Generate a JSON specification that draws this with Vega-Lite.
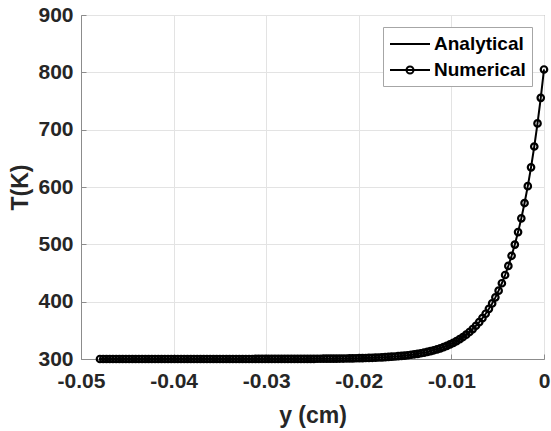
{
  "$schema": "https://vega.github.io/schema/vega-lite/v6.json",
  "width": 463,
  "height": 344,
  "autosize": "none",
  "padding": {"left": 81, "top": 15, "right": 7, "bottom": 72},
  "background": "white",
  "data": {"values": [
    {"y": -0.04795, "T": 300.0}, {"y": -0.0476, "T": 300.0}, {"y": -0.04725, "T": 300.0}, {"y": -0.0469, "T": 300.0}, {"y": -0.04655, "T": 300.0},
    {"y": -0.0462, "T": 300.0}, {"y": -0.04585, "T": 300.0}, {"y": -0.0455, "T": 300.0}, {"y": -0.04515, "T": 300.0}, {"y": -0.0448, "T": 300.0},
    {"y": -0.04445, "T": 300.0}, {"y": -0.0441, "T": 300.0}, {"y": -0.04375, "T": 300.0}, {"y": -0.0434, "T": 300.0}, {"y": -0.04305, "T": 300.0},
    {"y": -0.0427, "T": 300.0}, {"y": -0.04235, "T": 300.0}, {"y": -0.042, "T": 300.0}, {"y": -0.04165, "T": 300.0}, {"y": -0.0413, "T": 300.0},
    {"y": -0.04095, "T": 300.0}, {"y": -0.0406, "T": 300.0}, {"y": -0.04025, "T": 300.0}, {"y": -0.0399, "T": 300.0}, {"y": -0.03955, "T": 300.0},
    {"y": -0.0392, "T": 300.0}, {"y": -0.03885, "T": 300.0}, {"y": -0.0385, "T": 300.0}, {"y": -0.03815, "T": 300.0}, {"y": -0.0378, "T": 300.0},
    {"y": -0.03745, "T": 300.0}, {"y": -0.0371, "T": 300.0}, {"y": -0.03675, "T": 300.0}, {"y": -0.0364, "T": 300.0}, {"y": -0.03605, "T": 300.0},
    {"y": -0.0357, "T": 300.0}, {"y": -0.03535, "T": 300.0}, {"y": -0.035, "T": 300.0}, {"y": -0.03465, "T": 300.0}, {"y": -0.0343, "T": 300.0},
    {"y": -0.03395, "T": 300.0}, {"y": -0.0336, "T": 300.0}, {"y": -0.03325, "T": 300.0}, {"y": -0.0329, "T": 300.0}, {"y": -0.03255, "T": 300.0},
    {"y": -0.0322, "T": 300.0}, {"y": -0.03185, "T": 300.0}, {"y": -0.0315, "T": 300.0}, {"y": -0.03115, "T": 300.1}, {"y": -0.0308, "T": 300.1},
    {"y": -0.03045, "T": 300.1}, {"y": -0.0301, "T": 300.1}, {"y": -0.02975, "T": 300.1}, {"y": -0.0294, "T": 300.1}, {"y": -0.02905, "T": 300.1},
    {"y": -0.0287, "T": 300.1}, {"y": -0.02835, "T": 300.1}, {"y": -0.028, "T": 300.1}, {"y": -0.02765, "T": 300.1}, {"y": -0.0273, "T": 300.2},
    {"y": -0.02695, "T": 300.2}, {"y": -0.0266, "T": 300.2}, {"y": -0.02625, "T": 300.2}, {"y": -0.0259, "T": 300.2}, {"y": -0.02555, "T": 300.3},
    {"y": -0.0252, "T": 300.3}, {"y": -0.02485, "T": 300.3}, {"y": -0.0245, "T": 300.4}, {"y": -0.02415, "T": 300.4}, {"y": -0.0238, "T": 300.5},
    {"y": -0.02345, "T": 300.5}, {"y": -0.0231, "T": 300.6}, {"y": -0.02275, "T": 300.6}, {"y": -0.0224, "T": 300.7}, {"y": -0.02205, "T": 300.8},
    {"y": -0.0217, "T": 300.8}, {"y": -0.02135, "T": 300.9}, {"y": -0.021, "T": 301.0}, {"y": -0.02065, "T": 301.2}, {"y": -0.0203, "T": 301.3},
    {"y": -0.01995, "T": 301.4}, {"y": -0.0196, "T": 301.6}, {"y": -0.01925, "T": 301.7}, {"y": -0.0189, "T": 301.9}, {"y": -0.01855, "T": 302.1},
    {"y": -0.0182, "T": 302.4}, {"y": -0.01785, "T": 302.6}, {"y": -0.0175, "T": 302.9}, {"y": -0.01715, "T": 303.2}, {"y": -0.0168, "T": 303.6},
    {"y": -0.01645, "T": 304.0}, {"y": -0.0161, "T": 304.4}, {"y": -0.01575, "T": 304.9}, {"y": -0.0154, "T": 305.4}, {"y": -0.01505, "T": 306.0},
    {"y": -0.0147, "T": 306.6}, {"y": -0.01435, "T": 307.4}, {"y": -0.014, "T": 308.2}, {"y": -0.01365, "T": 309.0}, {"y": -0.0133, "T": 310.0},
    {"y": -0.01295, "T": 311.1}, {"y": -0.0126, "T": 312.3}, {"y": -0.01225, "T": 313.7}, {"y": -0.0119, "T": 315.2}, {"y": -0.01155, "T": 316.8},
    {"y": -0.0112, "T": 318.6}, {"y": -0.01085, "T": 320.6}, {"y": -0.0105, "T": 322.9}, {"y": -0.01015, "T": 325.4}, {"y": -0.0098, "T": 328.1},
    {"y": -0.00945, "T": 331.2}, {"y": -0.0091, "T": 334.6}, {"y": -0.00875, "T": 338.3}, {"y": -0.0084, "T": 342.5}, {"y": -0.00805, "T": 347.1},
    {"y": -0.0077, "T": 352.2}, {"y": -0.00735, "T": 357.9}, {"y": -0.007, "T": 364.2}, {"y": -0.00665, "T": 371.2}, {"y": -0.0063, "T": 378.9},
    {"y": -0.00595, "T": 387.5}, {"y": -0.0056, "T": 397.0}, {"y": -0.00525, "T": 407.5}, {"y": -0.0049, "T": 419.2}, {"y": -0.00455, "T": 432.1},
    {"y": -0.0042, "T": 446.5}, {"y": -0.00385, "T": 462.4}, {"y": -0.0035, "T": 480.0}, {"y": -0.00315, "T": 499.6}, {"y": -0.0028, "T": 521.3},
    {"y": -0.00245, "T": 545.3}, {"y": -0.0021, "T": 572.0}, {"y": -0.00175, "T": 601.5}, {"y": -0.0014, "T": 634.3}, {"y": -0.00105, "T": 670.6},
    {"y": -0.0007, "T": 710.9}, {"y": -0.00035, "T": 755.5}, {"y": 0.0, "T": 805.0}
  ]},
  "encoding": {
    "x": {
      "field": "y", "type": "quantitative",
      "scale": {"domain": [-0.05, 0], "nice": false, "zero": false},
      "axis": {
        "title": "y (cm)",
        "values": [-0.05, -0.04, -0.03, -0.02, -0.01, 0],
        "labelExpr": "datum.value === 0 ? '0' : '-' + format(-datum.value, '.2f')",
        "labelPadding": 16,
        "titlePadding": 13
      }
    },
    "y": {
      "field": "T", "type": "quantitative",
      "scale": {"domain": [300, 900], "nice": false, "zero": false},
      "axis": {
        "title": "T(K)",
        "values": [300, 400, 500, 600, 700, 800, 900],
        "labelPadding": 13,
        "titlePadding": 5
      }
    }
  },
  "layer": [
    {
      "mark": {"type": "line", "strokeWidth": 2, "clip": false},
      "encoding": {
        "color": {
          "datum": "Analytical", "type": "nominal",
          "scale": {"domain": ["Analytical", "Numerical"], "range": ["#000000", "#000000"]},
          "legend": {
            "title": null,
            "orient": "top-right",
            "offset": 12,
            "padding": 6,
            "rowPadding": 5,
            "symbolSize": 400,
            "symbolType": "M-1,0H3",
            "symbolStrokeWidth": 2,
            "labelOffset": 23,
            "strokeColor": "#a6a6a6",
            "fillColor": "#ffffff",
            "labelFont": "Liberation Sans",
            "labelFontSize": 19,
            "labelFontWeight": "bold",
            "labelColor": "#000000",
            "encode": {
              "symbols": {
                "update": {
                  "shape": {"signal": "datum.value === 'Numerical' ? 'M-1,0H3M0.65,0A0.35,0.35,0,1,0,1.35,0A0.35,0.35,0,1,0,0.65,0' : 'M-1,0H3'"},
                  "fill": {"value": "transparent"},
                  "stroke": {"value": "#000000"},
                  "strokeWidth": {"value": 2}
                }
              }
            }
          }
        }
      }
    },
    {
      "mark": {"type": "point", "filled": false, "shape": "circle", "size": 42, "strokeWidth": 2.2, "color": "#000000", "opacity": 1, "clip": false}
    }
  ],
  "config": {
    "view": {"stroke": "#8c8c8c", "strokeWidth": 1},
    "axis": {
      "labelFont": "Liberation Sans",
      "labelFontSize": 21,
      "labelFontWeight": "bold",
      "labelColor": "#262626",
      "titleFont": "Liberation Sans",
      "titleFontSize": 23,
      "titleFontWeight": "bold",
      "titleColor": "#262626",
      "domainColor": "#8c8c8c",
      "tickColor": "#8c8c8c",
      "tickSize": -5,
      "gridColor": "#e3e3e3",
      "grid": true,
      "labelFlush": false,
      "labelOverlap": false
    }
  }
}
